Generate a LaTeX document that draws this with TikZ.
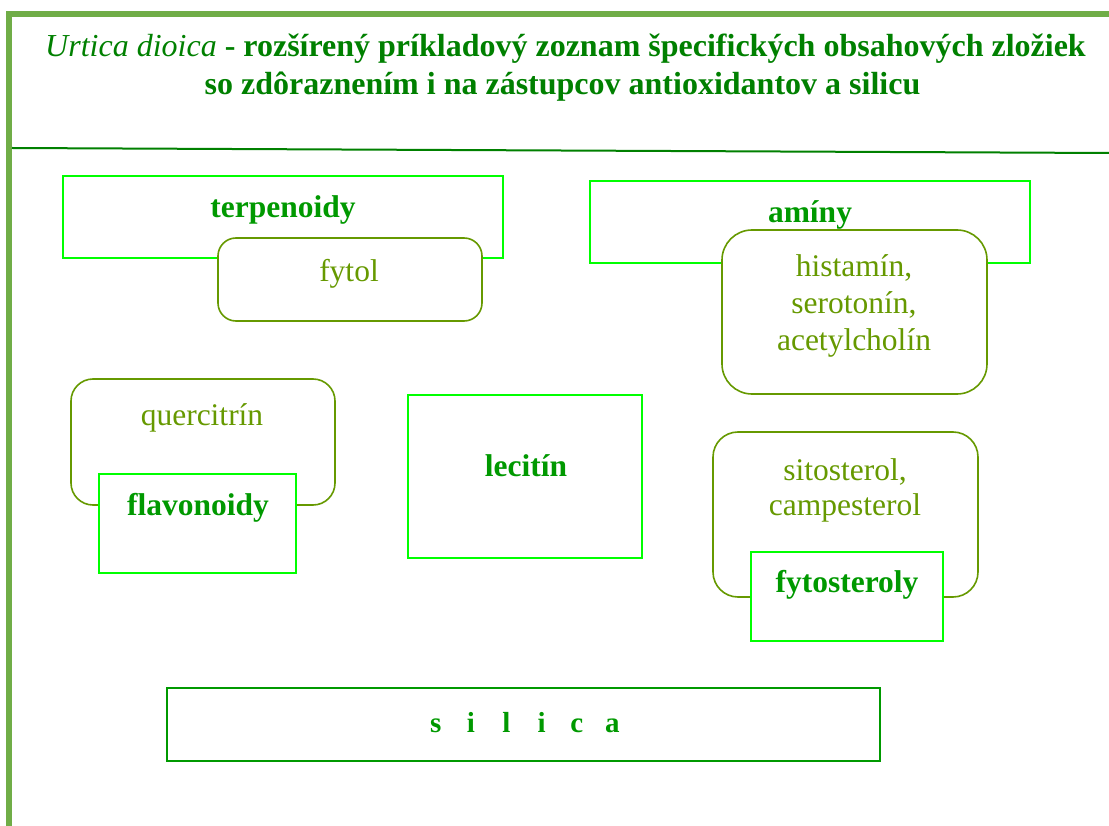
\documentclass[tikz,border=0pt]{standalone}
\usepackage{fontspec}
\setmainfont{Liberation Serif}
\definecolor{framegreen}{HTML}{70AD47}
\definecolor{titlegreen}{HTML}{008000}
\definecolor{boxgreen}{HTML}{00FF00}
\definecolor{headgreen}{HTML}{009900}
\definecolor{olive}{HTML}{669900}
\tikzset{
  catbox/.style={draw=boxgreen, line width=1.8pt, fill=white, inner sep=0pt},
  itembox/.style={draw=olive, line width=1.6pt, fill=white, rounded corners=#1, inner sep=0pt},
  itembox/.default=18pt,
  cattext/.style={text=headgreen, font=\fontsize{31.5}{37}\selectfont\bfseries, inner sep=0pt, anchor=base},
  itemtext/.style={text=olive, font=\fontsize{31.5}{37}\selectfont, align=center, inner sep=0pt, anchor=base},
  titletext/.style={text=titlegreen, font=\fontsize{32}{38}\selectfont\bfseries, inner sep=0pt, anchor=base}
}
\newcommand{\spreadletter}[1]{\makebox[35.3pt]{#1}}
\begin{document}
\begin{tikzpicture}[x=1pt,y=-1pt]
\useasboundingbox (0,0) rectangle (1109,826);
\clip (0,0) rectangle (1109,826);
% outer frame
\draw[framegreen, line width=6pt] (9,14.5) rectangle (1140,860);
% title
\node[titletext] (title1) at (565.5,57) {\textit{\mdseries Urtica dioica} - rozšírený príkladový zoznam špecifických obsahových zložiek};
\node[titletext] (title2) at (562.5,95) {so zdôraznením i na zástupcov antioxidantov a silicu};
% rule under the title
\coordinate (ruleL) at (12,148);
\coordinate (ruleR) at (1109,153);
\draw[titlegreen, line width=2pt] (ruleL) -- (ruleR);

% terpenoidy with fytol
\node[catbox, minimum width=440pt, minimum height=82pt] (terpbox) at (283,217) {};
\node[cattext] (terp) at (283,218) {terpenoidy};
\node[itembox, minimum width=264pt, minimum height=83pt] (fytolbox) at (350,279.5) {};
\node[itemtext] (fytol) at (349,282) {fytol};

% aminy with histamin etc. (multi-line text sits on its last baseline)
\node[catbox, minimum width=440pt, minimum height=82pt] (aminbox) at (810,222) {};
\node[cattext] (amin) at (810,223) {amíny};
\node[itembox=30pt, minimum width=265pt, minimum height=164pt] (histbox) at (854.5,312) {};
\node[itemtext] (hist) at (854,351) {histamín,\\serotonín,\\acetylcholín};

% flavonoidy with quercitrin
\node[itembox=22pt, minimum width=264pt, minimum height=126pt] (quercbox) at (203,442) {};
\node[itemtext] (querc) at (202,425) {quercitrín};
\node[catbox, minimum width=197pt, minimum height=99pt] (flavbox) at (197.5,523.5) {};
\node[cattext] (flav) at (198,515) {flavonoidy};

% lecitin
\node[catbox, minimum width=234pt, minimum height=163pt] (lecbox) at (525,476.5) {};
\node[cattext] (lec) at (526,476) {lecitín};

% fytosteroly with sitosterol, campesterol
\node[itembox=25pt, minimum width=265pt, minimum height=165pt] (sitobox) at (845.5,514.5) {};
\node[itemtext, font=\fontsize{31.5}{35}\selectfont] (sito) at (845,515) {sitosterol,\\campesterol};
\node[catbox, minimum width=192pt, minimum height=89pt] (fytobox) at (847,596.5) {};
\node[cattext] (fyto) at (847,592) {fytosteroly};

% silica
\node[draw=headgreen, line width=2.4pt, inner sep=0pt, minimum width=713pt, minimum height=73pt] (silbox) at (523.5,724.5) {};
\node[cattext, font=\fontsize{29}{34}\selectfont\bfseries] (sil) at (524,732) {\spreadletter{s}\spreadletter{i}\spreadletter{l}\spreadletter{i}\spreadletter{c}\spreadletter{a}};
\end{tikzpicture}
\end{document}
